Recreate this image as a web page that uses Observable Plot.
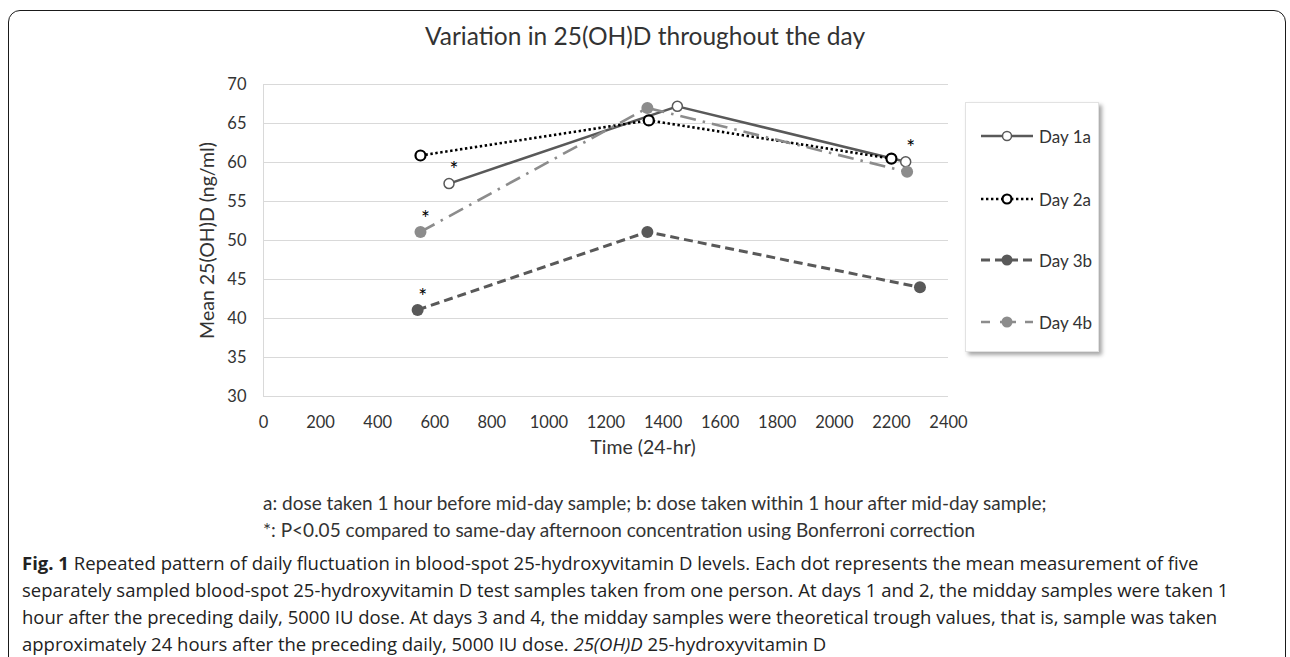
<!DOCTYPE html>
<html>
<head>
<meta charset="utf-8">
<script src="https://cdn.jsdelivr.net/npm/d3@7"></script>
<script src="https://cdn.jsdelivr.net/npm/@observablehq/plot@0.6"></script>
<style>
  html, body { margin: 0; padding: 0; background: #fff; }
  #page { position: relative; width: 1290px; height: 657px; overflow: hidden; background: #fff; }
  #frame { position: absolute; left: 8px; top: 10px; width: 1278px; height: 720px;
           border: 1.5px solid #1a1a1a; border-radius: 12px; box-sizing: border-box; }
  .chartText { position: absolute; font-family: Lato, "Open Sans", sans-serif; color: #333; white-space: nowrap; }
  #title { left: 0; width: 1290px; text-align: center; top: 21px; font-size: 24.5px; }
  #xlabel { left: 543px; width: 200px; text-align: center; top: 435px; font-size: 19.5px; }
  #notes { left: 263px; top: 489px; font-size: 19px; line-height: 27px; }
  #chart { position: absolute; left: 0; top: 0; }
  #legend { position: absolute; left: 965px; top: 102px; width: 134px; height: 250px; background: #fff;
            border: 1px solid #e2e2e2; box-shadow: 3px 3px 4px rgba(0,0,0,0.35); box-sizing: border-box; }
  .litem { position: absolute; left: 14px; height: 22px; display: flex; align-items: center;
           font-family: Lato, "Open Sans", sans-serif; font-size: 17px; color: #333; white-space: nowrap; }
  .litem svg { margin-right: 5px; }
  #caption { position: absolute; left: 22px; top: 549px; font-family: "Open Sans", "Noto Sans", sans-serif;
             font-size: 18.5px; line-height: 27px; color: #222; white-space: nowrap; }
</style>
</head>
<body>
<div id="page">
  <div id="frame"></div>
  <div id="chart"></div>
  <div id="title" class="chartText"></div>
  <div id="xlabel" class="chartText"></div>
  <div id="legend"></div>
  <div id="notes" class="chartText"></div>
  <div id="caption"></div>
</div>
<script>
// ---------- data ----------
const chartTitle = "Variation in 25(OH)D throughout the day";
const xLabel = "Time (24-hr)";
const yLabel = "Mean 25(OH)D (ng/ml)";
const seriesNames = ["Day 1a", "Day 2a", "Day 3b", "Day 4b"];

const day1aTime  = [650, 1450, 2250];
const day1aValue = [57.3, 67.2, 60.1];
const day1aSig   = [true, false, true];

const day2aTime  = [550, 1350, 2200];
const day2aValue = [60.9, 65.4, 60.5];
const day2aSig   = [false, false, false];

const day3bTime  = [540, 1345, 2300];
const day3bValue = [41.1, 51.1, 44.0];
const day3bSig   = [true, false, false];

const day4bTime  = [550, 1345, 2255];
const day4bValue = [51.1, 67.0, 58.8];
const day4bSig   = [true, false, false];

const xTicks = [0, 200, 400, 600, 800, 1000, 1200, 1400, 1600, 1800, 2000, 2200, 2400];
const yTicks = [30, 35, 40, 45, 50, 55, 60, 65, 70];

const noteLines = [
  "a: dose taken 1 hour before mid-day sample; b: dose taken within 1 hour after mid-day sample;",
  "*: P<0.05 compared to same-day afternoon concentration using Bonferroni correction"
];

// ---------- styles per series ----------
const styles = {
  "Day 1a": {stroke: "#595959", width: 2.5, dash: null, cap: "butt", dotFill: "#fff", dotStroke: "#595959", dotSW: 1.5, r: 5},
  "Day 2a": {stroke: "#000000", width: 2.6, dash: "2.4 2.6", cap: "butt", dotFill: "#fff", dotStroke: "#000", dotSW: 2.2, r: 5},
  "Day 3b": {stroke: "#595959", width: 3, dash: "9 5", cap: "butt", dotFill: "#595959", dotStroke: "none", dotSW: 0, r: 6},
  "Day 4b": {stroke: "#8c8c8c", width: 2.6, dash: "16 7 2.5 7", cap: "butt", dotFill: "#8c8c8c", dotStroke: "none", dotSW: 0, r: 6}
};

const sources = [
  [seriesNames[0], day1aTime, day1aValue, day1aSig],
  [seriesNames[1], day2aTime, day2aValue, day2aSig],
  [seriesNames[2], day3bTime, day3bValue, day3bSig],
  [seriesNames[3], day4bTime, day4bValue, day4bSig]
];
const rows = sources.flatMap(([name, t, v, s]) => t.map((time, i) => ({series: name, time, value: v[i], sig: s[i]})));

// ---------- chart ----------
const W = 1290, H = 470;
const marks = [
  Plot.gridY(yTicks, {stroke: "#d9d9d9", strokeOpacity: 1, strokeWidth: 1}),
  Plot.ruleX([xTicks[0]], {stroke: "#d9d9d9", strokeWidth: 1})
];
for (const name of seriesNames) {
  const st = styles[name];
  const data = rows.filter(d => d.series === name);
  marks.push(Plot.line(data, {x: "time", y: "value", stroke: st.stroke, strokeWidth: st.width,
    strokeDasharray: st.dash, strokeLinecap: st.cap, strokeLinejoin: "round"}));
}
for (const name of seriesNames) {
  const st = styles[name];
  const data = rows.filter(d => d.series === name);
  marks.push(Plot.dot(data, {x: "time", y: "value", r: st.r, fill: st.dotFill, stroke: st.dotStroke, strokeWidth: st.dotSW}));
}
marks.push(Plot.text(rows.filter(d => d.sig), {x: "time", y: "value", text: () => "*", dx: 5, dy: -13,
  fontSize: 21, fill: "#000", fontFamily: "Lato, sans-serif"}));

const chart = Plot.plot({
  width: W, height: H,
  marginLeft: 263, marginRight: 342, marginTop: 84, marginBottom: 74,
  style: {fontFamily: "Lato, 'Open Sans', sans-serif", fontSize: "16.5px", color: "#333", background: "transparent", overflow: "visible"},
  x: {domain: [xTicks[0], xTicks[xTicks.length - 1]], ticks: xTicks, tickSize: 0, tickPadding: 20, label: null, tickFormat: d => String(d)},
  y: {domain: [yTicks[0], yTicks[yTicks.length - 1]], ticks: yTicks, tickSize: 0, tickPadding: 17,
      label: yLabel, labelAnchor: "center", labelOffset: 63, labelArrow: "none"},
  marks
});
chart.querySelectorAll("g[aria-label='y-axis label']").forEach(el => el.setAttribute("font-size", "19.5px"));
document.getElementById("chart").appendChild(chart);

// ---------- titles / notes ----------
document.getElementById("title").textContent = chartTitle;
document.getElementById("xlabel").textContent = xLabel;
document.getElementById("notes").innerHTML = noteLines.map(l => l.replace(/</g, "&lt;")).join("<br>");

// ---------- legend ----------
const legendY = [22, 85, 146, 208];
const legend = document.getElementById("legend");
seriesNames.forEach((name, i) => {
  const st = styles[name];
  const item = document.createElement("div");
  item.className = "litem";
  item.style.top = legendY[i] + "px";
  const ns = "http://www.w3.org/2000/svg";
  const svg = document.createElementNS(ns, "svg");
  svg.setAttribute("width", 54); svg.setAttribute("height", 20);
  const ln = document.createElementNS(ns, "line");
  ln.setAttribute("x1", 1); ln.setAttribute("x2", 53); ln.setAttribute("y1", 10); ln.setAttribute("y2", 10);
  ln.setAttribute("stroke", st.stroke); ln.setAttribute("stroke-width", st.width);
  if (name === "Day 4b") ln.setAttribute("stroke-dasharray", "9 10 0 0 16");
  else if (st.dash) ln.setAttribute("stroke-dasharray", st.dash);
  svg.appendChild(ln);
  const c = document.createElementNS(ns, "circle");
  c.setAttribute("cx", 27); c.setAttribute("cy", 10); c.setAttribute("r", st.r - 0.5);
  c.setAttribute("fill", st.dotFill); c.setAttribute("stroke", st.dotStroke); c.setAttribute("stroke-width", st.dotSW);
  svg.appendChild(c);
  item.appendChild(svg);
  const t = document.createElement("span");
  t.textContent = name;
  item.appendChild(t);
  legend.appendChild(item);
});

// ---------- caption ----------
const captionLines = [
  "<b>Fig. 1</b> Repeated pattern of daily fluctuation in blood-spot 25-hydroxyvitamin D levels. Each dot represents the mean measurement of five",
  "separately sampled blood-spot 25-hydroxyvitamin D test samples taken from one person. At days 1 and 2, the midday samples were taken 1",
  "hour after the preceding daily, 5000 IU dose. At days 3 and 4, the midday samples were theoretical trough values, that is, sample was taken",
  "approximately 24 hours after the preceding daily, 5000 IU dose. <i>25(OH)D</i> 25-hydroxyvitamin D"
];
document.getElementById("caption").innerHTML = captionLines.join("<br>");
</script>
</body>
</html>
